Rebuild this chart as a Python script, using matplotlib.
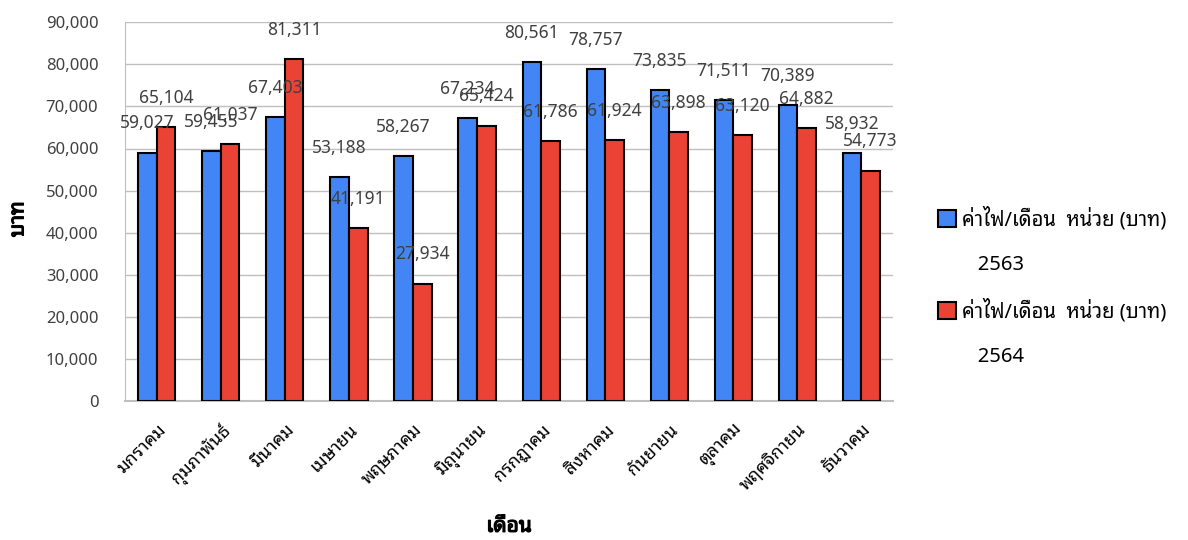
import matplotlib
matplotlib.use('Agg')
import matplotlib.pyplot as plt
import matplotlib.patheffects as pe
import numpy as np
from matplotlib import font_manager
from matplotlib.ft2font import FT2Font
from matplotlib.patches import Patch
from matplotlib.ticker import FuncFormatter

# monthly electricity cost, baht
months = ['มกราคม', 'กุมภาพันธ์', 'มีนาคม', 'เมษายน', 'พฤษภาคม', 'มิถุนายน',
          'กรกฎาคม', 'สิงหาคม', 'กันยายน', 'ตุลาคม', 'พฤศจิกายน', 'ธันวาคม']
cost_2563 = [59027, 59455, 67403, 53188, 58267, 67234, 80561, 78757, 73835, 71511, 70389, 58932]
cost_2564 = [65104, 61037, 81311, 41191, 27934, 65424, 61786, 61924, 63898, 63120, 64882, 54773]
series_names = ['ค่าไฟ/เดือน  หน่วย (บาท)', 'ค่าไฟ/เดือน  หน่วย (บาท)']
years = ['2563', '2564']


# pick an installed font that has thai glyphs
def find_thai_font():
    preferred = ['Tahoma', 'Noto Sans Thai Looped', 'Loma', 'Garuda', 'Noto Sans Thai',
                 'Sarabun', 'Waree', 'Norasi']
    fonts = sorted(font_manager.fontManager.ttflist,
                   key=lambda f: preferred.index(f.name) if f.name in preferred else 99)
    for f in fonts:
        try:
            if 0x0E04 in FT2Font(f.fname).get_charmap():
                return f.name
        except Exception:
            pass
    return None


thai = find_thai_font()
if thai:
    plt.rcParams['font.family'] = [thai, 'DejaVu Sans']

blue = '#4285F4'
red = '#EA4335'
txt = '#404040'
# fake bold for fonts without a bold face
heavy = [pe.withStroke(linewidth=0.9, foreground='black')]

fig = plt.figure(figsize=(11.88, 5.4), dpi=100)
ax = fig.add_axes([0.105, 0.257, 0.647, 0.702])

x = np.arange(len(months))
w = 0.29
b1 = ax.bar(x - w / 2, cost_2563, w, color=blue, edgecolor='black', linewidth=1.5, zorder=3)
b2 = ax.bar(x + w / 2, cost_2564, w, color=red, edgecolor='black', linewidth=1.5, zorder=3)

for bars, vals in [(b1, cost_2563), (b2, cost_2564)]:
    for r, v in zip(bars, vals):
        ax.annotate(f'{v:,}', (r.get_x() + r.get_width() / 2, v), xytext=(0, 21),
                    textcoords='offset points', ha='center', va='center',
                    fontsize=12.5, color=txt, zorder=4)

ax.set_xlim(-0.5, len(months) - 0.5)
ax.set_ylim(0, 90000)
ax.set_yticks(np.arange(0, 90001, 10000))
ax.yaxis.set_major_formatter(FuncFormatter(lambda v, p: f'{int(v):,}'))
ax.grid(axis='y', color='#bfbfbf', linewidth=1, zorder=0)
for s in ['top', 'right']:
    ax.spines[s].set_visible(False)
ax.spines['left'].set_color('#bfbfbf')
ax.spines['bottom'].set_color('#bfbfbf')
ax.spines['bottom'].set_linewidth(1.5)
ax.tick_params(axis='both', length=0, labelsize=12, colors=txt)
ax.tick_params(axis='y', pad=19)
ax.tick_params(axis='x', pad=14, labelsize=13, labelcolor='black')

ax.set_xticks(x)
ax.set_xticklabels(months, rotation=45, ha='right', rotation_mode='anchor')

ax.set_xlabel('เดือน', fontsize=15, color='black', path_effects=heavy)
ax.set_ylabel('บาท', fontsize=15, color='black', path_effects=heavy)
ax.xaxis.label.set_va('center')
ax.yaxis.label.set_va('center')
ax.xaxis.set_label_coords(0.5, -0.33)
ax.yaxis.set_label_coords(-0.139, 0.48)

# legend: patch on first line, year on the line below
blank = Patch(visible=False)
handles = [Patch(facecolor=blue, edgecolor='black', linewidth=1.5), blank,
           Patch(facecolor=red, edgecolor='black', linewidth=1.5), blank]
labels = [series_names[0], '   ' + years[0], series_names[1], '   ' + years[1]]
leg = fig.legend(handles, labels, loc='center left', bbox_to_anchor=(0.7745, 0.469),
                 frameon=False, fontsize=14.5, handlelength=0.9, handleheight=0.9,
                 handletextpad=0.3, labelspacing=1.2)
for t in leg.get_texts():
    t.set_color('black')

fig.savefig('out.png', dpi=100)
